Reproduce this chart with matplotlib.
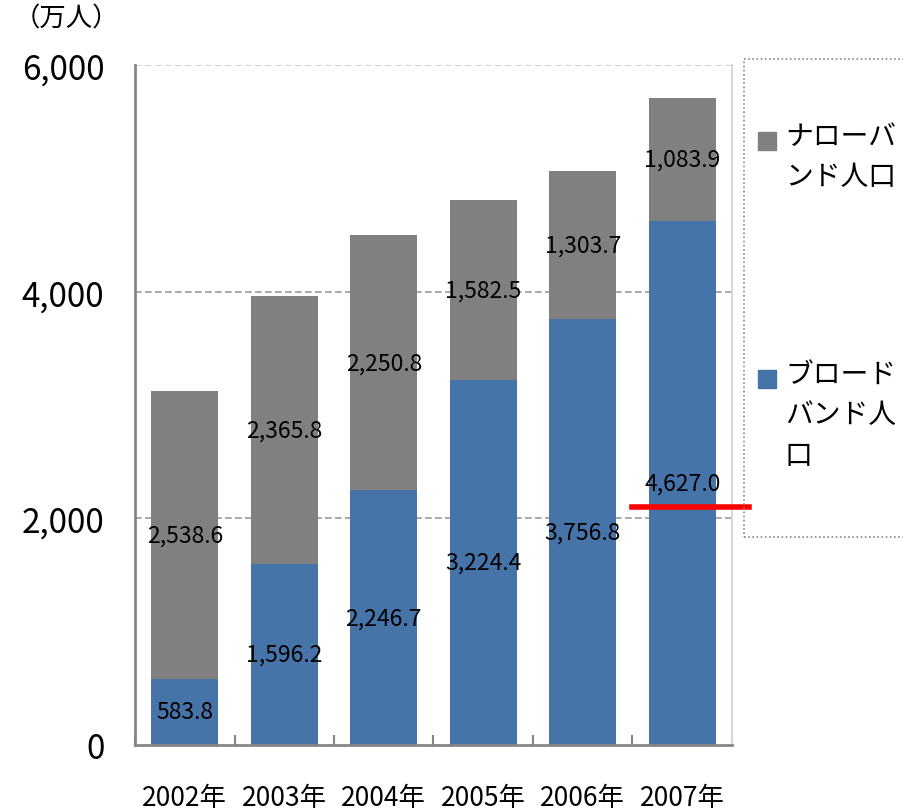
import numpy as np
import matplotlib
matplotlib.use('Agg')
import matplotlib.pyplot as plt
from matplotlib.patches import Rectangle
from matplotlib.ticker import FuncFormatter

plt.rcParams['font.family'] = ['Noto Sans CJK JP', 'DejaVu Sans']

# data
years = ['2002年', '2003年', '2004年', '2005年', '2006年', '2007年']
broadband = [583.8, 1596.2, 2246.7, 3224.4, 3756.8, 4627.0]
narrowband = [2538.6, 2365.8, 2250.8, 1582.5, 1303.7, 1083.9]
series_names = ['ナローバ\nンド人口', 'ブロード\nバンド人\n口']
marker_value = 2100

blue = '#4673a8'
gray = '#808080'

fig = plt.figure(figsize=(9.04, 8.12), dpi=100)
ax = fig.add_axes([135/904, 1-746/812, 597/904, 680/812])

x = np.arange(len(years))
b1 = ax.bar(x, broadband, width=0.67, color=blue, zorder=2)
b2 = ax.bar(x, narrowband, width=0.67, bottom=broadband, color=gray, zorder=2)

# value labels in the middle of each segment
for xi, h in zip(x, broadband):
    ax.text(xi, h/2, f'{h:,.1f}', ha='center', va='center', fontsize=16.5, zorder=3)
for xi, lo, h in zip(x, broadband, narrowband):
    ax.text(xi, lo + h/2, f'{h:,.1f}', ha='center', va='center', fontsize=16.5, zorder=3)

ax.set_xlim(-0.5, len(years) - 0.5)
ax.set_ylim(0, 6000)
ax.set_yticks([0, 2000, 4000, 6000])
ax.yaxis.set_major_formatter(FuncFormatter(lambda v, p: f'{v:,.0f}'))
ax.tick_params(axis='y', length=0, pad=22, labelsize=24)

ax.set_xticks(x)
ax.set_xticklabels(years)
ax.set_xticks(np.arange(len(years) + 1) - 0.5, minor=True)
ax.tick_params(axis='x', which='major', length=0, pad=28, labelsize=19)
ax.tick_params(axis='x', which='minor', direction='in', length=7, width=1.5, color='#868686')

for yv in [2000, 4000, 6000]:
    ax.axhline(yv, color='#999999' if yv < 6000 else '#cccccc', lw=1.2, ls=(0, (4, 2)), zorder=1)

ax.spines['top'].set_visible(False)
ax.spines['right'].set_color('#d9d9d9')
ax.spines['right'].set_linewidth(1.5)
for s in ['left', 'bottom']:
    ax.spines[s].set_color('#868686')
    ax.spines[s].set_linewidth(2)

# red marker line
ax.plot([4.5, 5.67], [marker_value, marker_value], color='#ff0000', lw=4, clip_on=False, zorder=4)

# unit label
fig.text(14/904, 1-19/812, '（万人）', fontsize=19, va='center', ha='left')

# legend box (dotted)
fig.patches.append(Rectangle((744/904, 1-538/812), 200/904, 478/812, transform=fig.transFigure,
                             fill=False, ec='#888888', ls=(0, (1, 1.5)), lw=1.2))
legend_items = [(gray, series_names[0], 142), (blue, series_names[1], 380)]
for c, name, ypx in legend_items:
    fig.patches.append(Rectangle((758/904, 1-(ypx+9)/812), 18/904, 18/812,
                                 transform=fig.transFigure, color=c))
    fig.text(785/904, 1-(ypx-20)/812, name, fontsize=20, va='top', ha='left', linespacing=1.45)

fig.savefig('out.png', dpi=100)
